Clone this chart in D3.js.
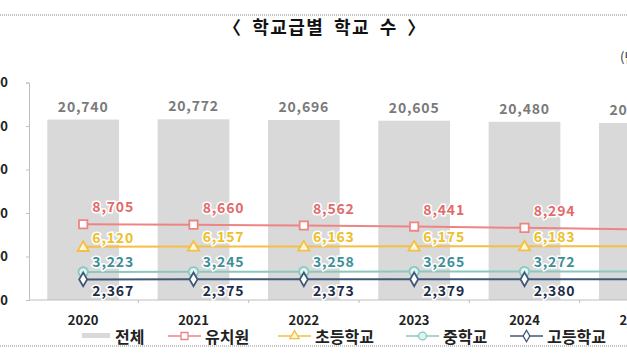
<!DOCTYPE html>
<html><head><meta charset="utf-8">
<script src="https://cdn.jsdelivr.net/npm/d3@7"></script>
<style>
html,body{margin:0;padding:0;background:#fff;overflow:hidden;}
text{font-family:"Noto Sans CJK KR","Noto Sans",sans-serif;}
</style></head>
<body><svg id="c" width="627" height="355"></svg>
<script>
const years = ["2020","2021","2022","2023","2024","2025"];
const total = [20740, 20772, 20696, 20605, 20480, 20340];
const kinder = [8705, 8660, 8562, 8441, 8294, 8120];
const elem = [6120, 6157, 6163, 6175, 6183, 6190];
const middle = [3223, 3245, 3258, 3265, 3272, 3280];
const high = [2367, 2375, 2373, 2379, 2380, 2385];
const yTicks = [0, 5000, 10000, 15000, 20000, 25000];
const title = "〈 학교급별 학교 수 〉";
const unit = "(단위: 개)";
const totalName = "전체";

const seriesList = [
  {name:"유치원", values:kinder, line:"#EE8585", fill:"#fff", label:"#E26A6A", sym:d3.symbolSquare, size:70, dy:-12},
  {name:"초등학교", values:elem, line:"#F4BF45", fill:"#FFF6D8", label:"#EDC02A", sym:d3.symbolTriangle, size:55, dy:-4},
  {name:"중학교", values:middle, line:"#8CC7BD", fill:"#D9F5F3", label:"#3E8E98", sym:d3.symbolCircle, size:70, dy:-5},
  {name:"고등학교", values:high, line:"#3F5878", fill:"#fff", label:"#1E2C4A", sym:d3.symbolDiamond, size:55, dy:17}
];

const svg = d3.select("#c");
[15, 346].forEach(yy => svg.append("line").attr("x1",0).attr("x2",627).attr("y1",yy).attr("y2",yy)
  .attr("stroke","#8a8a8a").attr("stroke-width",1).attr("stroke-dasharray","1,1"));

svg.append("text").attr("x",325).attr("y",34).attr("text-anchor","middle")
  .attr("font-size",18).attr("font-weight","bold").attr("fill","#111")
  .attr("letter-spacing",1.5).attr("word-spacing",4).text(title);
svg.append("text").attr("x",620).attr("y",62).attr("font-size",13).attr("fill","#333").text(unit);

const x = d3.scaleBand().domain(years).range([28, 690]).paddingInner(0.35).paddingOuter(0.175);
const y = d3.scaleLinear().domain([0, 25000]).range([300, 82.5]);
const cx = d => x(d) + x.bandwidth()/2;

// y axis
const ya = svg.append("g").attr("transform","translate(29,0)")
  .call(d3.axisLeft(y).tickValues(yTicks).tickSize(3).tickPadding(18).tickFormat(d3.format(",")));
ya.select(".domain").attr("stroke","#BFBFBF");
ya.selectAll(".tick line").attr("stroke","#BFBFBF");
ya.selectAll(".tick text").attr("font-size",13).attr("font-weight","bold").attr("fill","#222")
  .style("font-family","'Noto Sans CJK KR',sans-serif");

// bars
svg.append("g").selectAll("rect").data(years).join("rect")
  .attr("x", d => x(d)).attr("width", x.bandwidth())
  .attr("y", (d,i) => y(total[i])).attr("height", (d,i) => y(0) - y(total[i]))
  .attr("fill","#D9D9D9");
svg.append("g").selectAll("text").data(years).join("text")
  .attr("x", d => cx(d)).attr("y", (d,i) => y(total[i]) - 8)
  .attr("text-anchor","middle").attr("font-size",14).attr("font-weight","bold").attr("fill","#7A7A7A")
  .attr("letter-spacing",0.8)
  .text((d,i) => d3.format(",")(total[i]));

// x axis
const step = x.step();
svg.append("line").attr("x1",29).attr("x2",690).attr("y1",y(0)).attr("y2",y(0)).attr("stroke","#BFBFBF");
svg.append("g").selectAll("line").data(years).join("line")
  .attr("x1", d => x(d) + x.bandwidth() + (step - x.bandwidth())/2).attr("x2", d => x(d) + x.bandwidth() + (step - x.bandwidth())/2)
  .attr("y1", y(0)).attr("y2", y(0)+3).attr("stroke","#BFBFBF");
svg.append("g").selectAll("text").data(years).join("text")
  .attr("x", d => cx(d)).attr("y", 325).attr("text-anchor","middle")
  .attr("font-size",13).attr("font-weight","bold").attr("fill","#222").text(d => d);

// lines
const lineGen = d3.line().x((v,i) => cx(years[i])).y(v => y(v));
seriesList.forEach(s => {
  const g = svg.append("g");
  g.append("path").attr("d", lineGen(s.values)).attr("fill","none").attr("stroke",s.line).attr("stroke-width",2);
  g.selectAll("path.m").data(s.values).join("path").attr("class","m")
    .attr("transform",(v,i) => `translate(${cx(years[i])},${y(v) + (s.sym===d3.symbolTriangle?1:0)})`)
    .attr("d", d3.symbol().type(s.sym).size(s.size)())
    .attr("fill", s.fill).attr("stroke", s.line).attr("stroke-width",1.8);
  g.selectAll("text").data(s.values).join("text")
    .attr("x",(v,i) => cx(years[i]) + 30).attr("y", v => y(v) + s.dy)
    .attr("text-anchor","middle").attr("font-size",14).attr("font-weight","bold").attr("letter-spacing",0.8)
    .attr("fill", s.label).attr("stroke","#fff").attr("stroke-width",3).attr("paint-order","stroke")
    .text(v => d3.format(",")(v));
});

// legend
const lg = svg.append("g");
lg.append("rect").attr("x",82).attr("y",333).attr("width",28).attr("height",5).attr("fill","#D9D9D9");
lg.append("text").attr("x",115).attr("y",343).attr("font-size",16).attr("font-weight","bold").attr("fill","#222").text(totalName);
const legX = [168, 278, 406, 510];
seriesList.forEach((s,i) => {
  const x0 = legX[i];
  lg.append("line").attr("x1",x0).attr("x2",x0+33).attr("y1",336).attr("y2",336).attr("stroke",s.line).attr("stroke-width",1.6);
  lg.append("path").attr("transform",`translate(${x0+16.5},336)`).attr("d", d3.symbol().type(s.sym).size(s.size*0.7)())
    .attr("fill",s.fill).attr("stroke",s.line).attr("stroke-width",1.3);
  lg.append("text").attr("x",x0+37).attr("y",343).attr("font-size",16).attr("font-weight","bold").attr("fill","#222").text(s.name);
});
</script></body></html>
